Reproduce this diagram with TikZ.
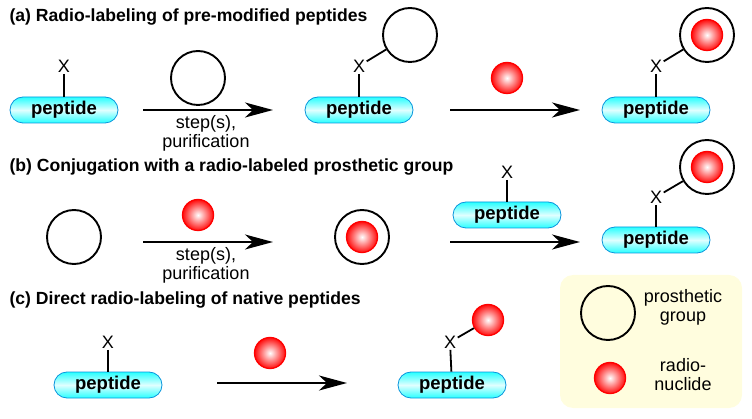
\documentclass[tikz,border=0pt]{standalone}
\usepackage{fontspec}
\setmainfont{Liberation Sans}
\usepackage{tikz}
\usetikzlibrary{arrows.meta}

\begin{document}
\begin{tikzpicture}[x=1pt,y=-1pt,
    every node/.style={font=\fontsize{18}{19}\selectfont},
    pep/.style={draw=cyan!80!blue, line width=0.8pt, rounded corners=13pt,
        minimum width=108pt, minimum height=26pt, inner sep=0pt,
        top color=cyan!85, bottom color=cyan!85, middle color=cyan!12,
        font=\fontsize{18.5}{19}\selectfont\bfseries},
    xlab/.style={inner sep=1.5pt},
    pgroup/.style={circle, draw, line width=1.9pt, minimum size=54pt, inner sep=0pt},
    nuc/.style={circle, draw=red, line width=1.3pt, minimum size=31pt, inner sep=0pt,
        inner color=white, outer color=red!95},
    rxn/.style={line width=1.9pt, -{Stealth[length=28pt,width=15pt,inset=8pt]}},
    bond/.style={line width=1.8pt},
    ttl/.style={anchor=west, font=\fontsize{17.6}{19}\selectfont\bfseries}]
\useasboundingbox (0,0) rectangle (752,419);

% (a)
\node[ttl] (ta) at (6,17) {(a) Radio-labeling of pre-modified peptides};
\node[pep] (pa1) at (64,110) {peptide};
\node[xlab] (xa1) at (64,66) {X};
\draw[bond] (xa1) -- (pa1);
\coordinate (a1s) at (143,110);
\coordinate (a1e) at (273,110);
\draw[rxn] (a1s) -- (a1e);
\node[pgroup] (ga1) at (198,78) {};
\node[align=center, anchor=north] (sa1) at (206,112) {step(s),\\purification};
\node[pep] (pa2) at (359,110) {peptide};
\node[xlab] (xa2) at (359,66) {X};
\node[pgroup] (ga2) at (410,35) {};
\draw[bond] (xa2) -- (pa2);
\draw[bond] (xa2) -- (ga2);
\coordinate (a2s) at (450,110);
\coordinate (a2e) at (580,110);
\draw[rxn] (a2s) -- (a2e);
\node[nuc] (na1) at (507,78) {};
\node[pep] (pa3) at (656,110) {peptide};
\node[xlab] (xa3) at (656,66) {X};
\node[pgroup] (ga3) at (707,35) {};
\node[nuc] (na2) at (707,35) {};
\draw[bond] (xa3) -- (pa3);
\draw[bond] (xa3) -- (ga3);

% (b)
\node[ttl] (tb) at (6,167) {(b) Conjugation with a radio-labeled prosthetic group};
\node[pgroup] (gb1) at (74,237) {};
\coordinate (b1s) at (143,242);
\coordinate (b1e) at (273,242);
\draw[rxn] (b1s) -- (b1e);
\node[nuc] (nb1) at (198,215) {};
\node[align=center, anchor=north] (sb1) at (206,244) {step(s),\\purification};
\node[pgroup] (gb2) at (362,237) {};
\node[nuc] (nb2) at (362,237) {};
\node[pep] (pb1) at (507,215) {peptide};
\node[xlab] (xb1) at (507,172) {X};
\draw[bond] (xb1) -- (pb1);
\coordinate (b2s) at (450,242);
\coordinate (b2e) at (580,242);
\draw[rxn] (b2s) -- (b2e);
\node[pep] (pb2) at (656,240) {peptide};
\node[xlab] (xb2) at (656,197) {X};
\node[pgroup] (gb3) at (707,167) {};
\node[nuc] (nb3) at (707,167) {};
\draw[bond] (xb2) -- (pb2);
\draw[bond] (xb2) -- (gb3);

% (c)
\node[ttl] (tc) at (6,300) {(c) Direct radio-labeling of native peptides};
\node[pep] (pc1) at (108,385) {peptide};
\node[xlab] (xc1) at (108,342) {X};
\draw[bond] (xc1) -- (pc1);
\coordinate (c1s) at (217,383);
\coordinate (c1e) at (347,383);
\draw[rxn] (c1s) -- (c1e);
\node[nuc] (nc1) at (270,353) {};
\node[pep] (pc2) at (452,385) {peptide};
\node[xlab] (xc2) at (450,342) {X};
\node[nuc] (nc2) at (488,320) {};
\draw[bond] (xc2) -- (pc2);
\draw[bond] (xc2) -- (nc2);

% legend
\fill[yellow!13, rounded corners=13pt] (560,275) rectangle (742,408);
\node[pgroup] (lg) at (608,313) {};
\node[align=center] (lgt) at (683,307) {prosthetic\\group};
\node[nuc] (ln) at (610,378) {};
\node[align=center] (lnt) at (683,375) {radio-\\nuclide};
\end{tikzpicture}
\end{document}
